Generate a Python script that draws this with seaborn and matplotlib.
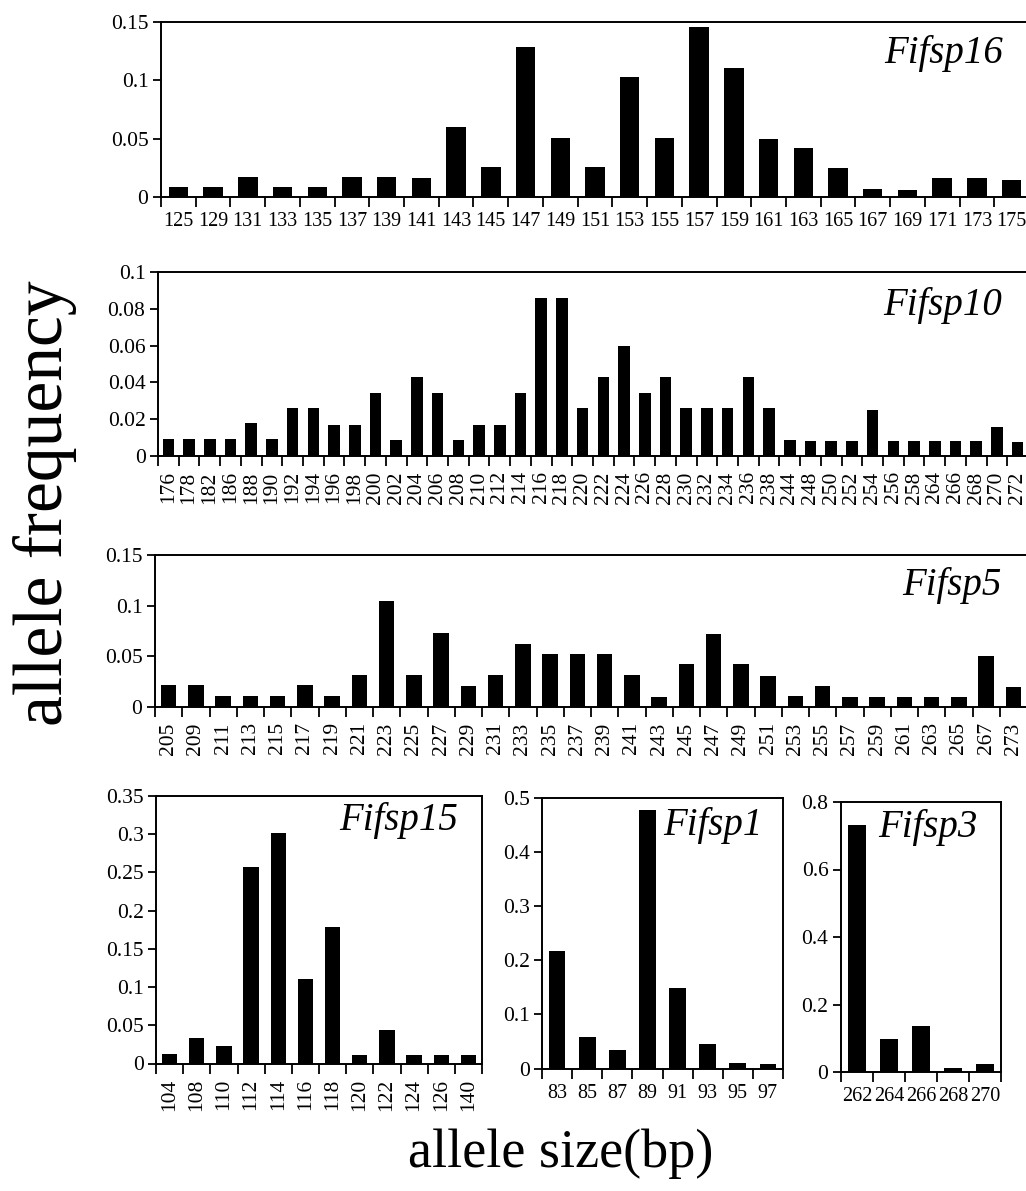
import numpy as np
import matplotlib
matplotlib.use('Agg')
import matplotlib.pyplot as plt
import seaborn as sns

# ---------------- data ----------------
fifsp16_sizes = ['125', '129', '131', '133', '135', '137', '139', '141', '143', '145', '147', '149',
                 '151', '153', '155', '157', '159', '161', '163', '165', '167', '169', '171', '173', '175']
fifsp16_freq = [0.009, 0.0085, 0.017, 0.009, 0.0085, 0.017, 0.017, 0.016, 0.060, 0.026, 0.129, 0.051,
                0.026, 0.103, 0.051, 0.146, 0.111, 0.050, 0.042, 0.025, 0.007, 0.006, 0.016, 0.016, 0.015]

fifsp10_sizes = ['176', '178', '182', '186', '188', '190', '192', '194', '196', '198', '200', '202',
                 '204', '206', '208', '210', '212', '214', '216', '218', '220', '222', '224', '226',
                 '228', '230', '232', '234', '236', '238', '244', '248', '250', '252', '254', '256',
                 '258', '264', '266', '268', '270', '272']
fifsp10_freq = [0.009, 0.009, 0.009, 0.009, 0.018, 0.009, 0.026, 0.026, 0.017, 0.017, 0.034, 0.0085,
                0.043, 0.034, 0.0085, 0.017, 0.017, 0.034, 0.086, 0.086, 0.026, 0.043, 0.060, 0.034,
                0.043, 0.026, 0.026, 0.026, 0.043, 0.026, 0.0085, 0.008, 0.008, 0.008, 0.025, 0.008,
                0.008, 0.008, 0.008, 0.008, 0.016, 0.0075]

fifsp5_sizes = ['205', '209', '211', '213', '215', '217', '219', '221', '223', '225', '227', '229',
                '231', '233', '235', '237', '239', '241', '243', '245', '247', '249', '251', '253',
                '255', '257', '259', '261', '263', '265', '267', '273']
fifsp5_freq = [0.022, 0.0215, 0.011, 0.011, 0.011, 0.0215, 0.0105, 0.032, 0.105, 0.032, 0.073, 0.021,
               0.032, 0.062, 0.052, 0.052, 0.052, 0.032, 0.010, 0.042, 0.072, 0.042, 0.031, 0.011,
               0.021, 0.010, 0.010, 0.010, 0.010, 0.010, 0.050, 0.020]

fifsp15_sizes = ['104', '108', '110', '112', '114', '116', '118', '120', '122', '124', '126', '140']
fifsp15_freq = [0.0126, 0.034, 0.0227, 0.257, 0.301, 0.111, 0.178, 0.011, 0.044, 0.011, 0.0105, 0.0105]

fifsp1_sizes = ['83', '85', '87', '89', '91', '93', '95', '97']
fifsp1_freq = [0.218, 0.058, 0.035, 0.478, 0.149, 0.046, 0.010, 0.009]

fifsp3_sizes = ['262', '264', '266', '268', '270']
fifsp3_freq = [0.732, 0.098, 0.135, 0.012, 0.023]

panel_names = ['Fifsp16', 'Fifsp10', 'Fifsp5', 'Fifsp15', 'Fifsp1', 'Fifsp3']
y_label = 'allele frequency'
x_label = 'allele size(bp)'

# ---------------- style ----------------
sns.set_style('ticks')
plt.rcParams['font.family'] = ['Liberation Serif', 'DejaVu Serif']
plt.rcParams['axes.linewidth'] = 1.4
plt.rcParams['text.color'] = 'black'
plt.rcParams['xtick.color'] = 'black'
plt.rcParams['ytick.color'] = 'black'
plt.rcParams['axes.labelcolor'] = 'black'

W, H = 1026, 1191
fig = plt.figure(figsize=(W / 100, H / 100), dpi=100)


def fmt(v):
    s = ('%.2f' % v).rstrip('0').rstrip('.')
    return s if s else '0'


panels = [
    dict(sizes=fifsp16_sizes, freq=fifsp16_freq, yticks=[0, 0.05, 0.1, 0.15],
         box=(161, 22, 1029, 197), rot=0, name_xy=(1003, 63), right=False),
    dict(sizes=fifsp10_sizes, freq=fifsp10_freq, yticks=[0, 0.02, 0.04, 0.06, 0.08, 0.1],
         box=(158, 272, 1028, 456), rot=90, name_xy=(1002, 315), right=False),
    dict(sizes=fifsp5_sizes, freq=fifsp5_freq, yticks=[0, 0.05, 0.1, 0.15],
         box=(155, 555, 1027, 707), rot=90, name_xy=(1002, 595), right=True),
    dict(sizes=fifsp15_sizes, freq=fifsp15_freq, yticks=[0, 0.05, 0.1, 0.15, 0.2, 0.25, 0.3, 0.35],
         box=(156, 796, 482, 1063.5), rot=90, name_xy=(458, 830), right=True),
    dict(sizes=fifsp1_sizes, freq=fifsp1_freq, yticks=[0, 0.1, 0.2, 0.3, 0.4, 0.5],
         box=(542, 798, 783, 1068.5), rot=0, name_xy=(763, 835), right=True),
    dict(sizes=fifsp3_sizes, freq=fifsp3_freq, yticks=[0, 0.2, 0.4, 0.6, 0.8],
         box=(841, 802, 1001, 1072), rot=0, name_xy=(978, 837), right=True),
]

for name, p in zip(panel_names, panels):
    l, t, r, b = p['box']
    ax = fig.add_axes([l / W, 1 - b / H, (r - l) / W, (b - t) / H])
    n = len(p['sizes'])
    sns.barplot(x=p['sizes'], y=p['freq'], color='black', saturation=1, width=0.56,
                linewidth=0, ax=ax)
    ax.set_xlim(-0.5, n - 0.5)
    ax.set_ylim(0, p['yticks'][-1])
    ax.set_xlabel('')
    ax.set_ylabel('')
    # labels under bars, tick marks at bar boundaries
    ax.set_xticks(range(n))
    ax.set_xticklabels(p['sizes'], rotation=p['rot'],
                       fontsize=14.5 if p['rot'] == 0 else 15.5)
    ax.set_xticks(np.arange(-0.5, n, 1.0), minor=True)
    ax.tick_params(axis='x', which='major', length=0, pad=11)
    ax.tick_params(axis='x', which='minor', length=7, width=1.3, direction='out', color='black')
    ax.set_yticks(p['yticks'])
    ax.set_yticklabels([fmt(v) for v in p['yticks']], fontsize=15.5)
    ax.tick_params(axis='y', length=6, width=1.3, direction='out', pad=3, color='black')
    for s in ax.spines.values():
        s.set_color('black')
        s.set_linewidth(1.4)
    ax.spines['right'].set_visible(p['right'])
    ax.spines['top'].set_visible(True)
    fig.text(p['name_xy'][0] / W, 1 - p['name_xy'][1] / H, name, style='italic',
             fontsize=28, ha='right', va='baseline', color='black')

fig.text(45 / W, 1 - 503 / H, y_label, rotation=90, fontsize=50, ha='center', va='center',
         color='black')
fig.text(561 / W, 1 - 1167 / H, x_label, fontsize=39, ha='center', va='baseline', color='black')

fig.savefig('out.png', dpi=100, facecolor='white')
